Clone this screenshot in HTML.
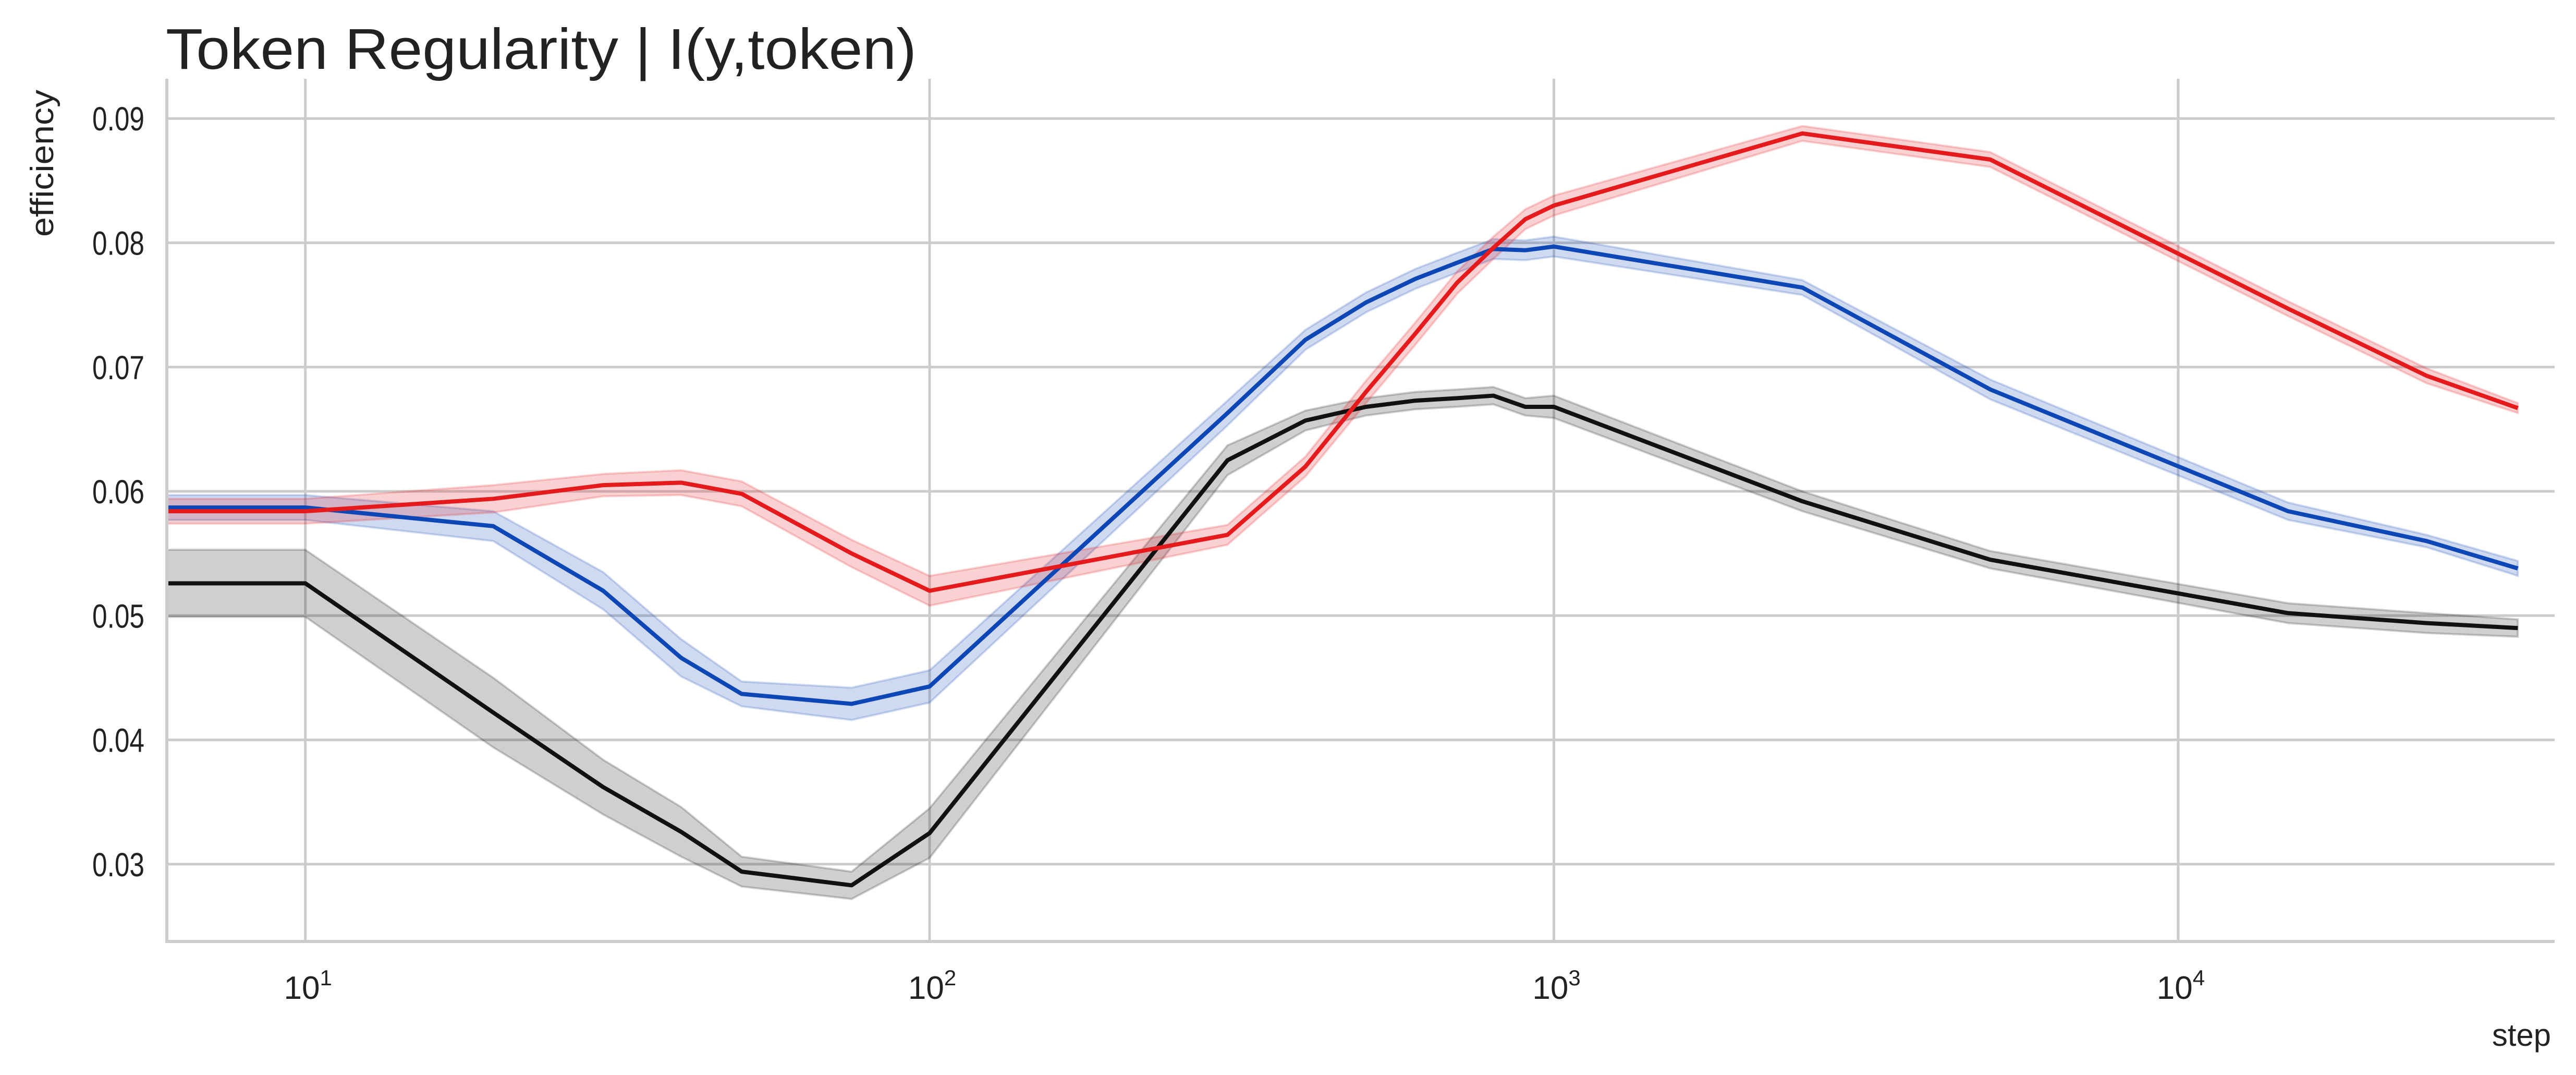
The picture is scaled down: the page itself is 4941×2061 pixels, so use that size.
<!DOCTYPE html>
<html><head><meta charset="utf-8"><style>
html,body{margin:0;padding:0;background:#fff;}
svg{display:block;font-family:"Liberation Sans",sans-serif;}
</style></head><body>
<svg id="chart" width="4941" height="2061" viewBox="0 0 4941 2061" xmlns="http://www.w3.org/2000/svg">
<text x="318" y="132" font-size="110" textLength="1440" lengthAdjust="spacingAndGlyphs" fill="#222">Token Regularity | I(y,token)</text>
<text transform="translate(102,172) rotate(-90)" text-anchor="end" font-size="62" textLength="282" lengthAdjust="spacingAndGlyphs" fill="#222">efficiency</text>
<text x="4893" y="2005" text-anchor="end" font-size="60" textLength="113" lengthAdjust="spacingAndGlyphs" fill="#222">step</text>
<g id="grid"></g><g id="bands"></g><g id="lines"></g><g id="axes"></g>
</svg>
<script>
const steps=[6,10,20,30,40,50,75,100,300,400,500,600,700,800,900,1000,2500,5000,15000,25000,35000];
const redVals=[0.0584,0.0584,0.0594,0.0605,0.0607,0.0598,0.0550,0.0520,0.0565,0.0620,0.0680,0.0727,0.0768,0.0796,0.0819,0.0830,0.0888,0.0867,0.0747,0.0693,0.0667];
const redCi=[0.0010,0.0010,0.0011,0.0009,0.0010,0.0010,0.0011,0.0012,0.0008,0.0008,0.0009,0.0009,0.0009,0.0009,0.0008,0.0008,0.0006,0.0006,0.0006,0.0006,0.0004];
const blueVals=[0.0587,0.0587,0.0572,0.0520,0.0466,0.0437,0.0429,0.0443,0.0663,0.0722,0.0752,0.0771,0.0784,0.0795,0.0794,0.0797,0.0764,0.0682,0.0584,0.0560,0.0538];
const blueCi=[0.0010,0.0010,0.0012,0.0015,0.0015,0.0010,0.0013,0.0013,0.0010,0.0008,0.0008,0.0008,0.0008,0.0008,0.0008,0.0008,0.0006,0.0008,0.0007,0.0005,0.0006];
const blackVals=[0.0526,0.0526,0.0422,0.0362,0.0326,0.0294,0.0283,0.0325,0.0625,0.0657,0.0668,0.0673,0.0675,0.0677,0.0668,0.0668,0.0592,0.0545,0.0502,0.0494,0.0490];
const blackCi=[0.0027,0.0027,0.0028,0.0022,0.0020,0.0012,0.0011,0.0020,0.0012,0.0008,0.0007,0.0007,0.0007,0.0007,0.0007,0.0009,0.0008,0.0007,0.0008,0.0008,0.0007];
const yTicks=[0.03,0.04,0.05,0.06,0.07,0.08,0.09];
const yTickLabels=["0.03","0.04","0.05","0.06","0.07","0.08","0.09"];
const xTickExps=[1,2,3,4];

const L=320,R=4900,T=151,B=1805;
const lx0=Math.log10(6),lx1=4.603;
function X(v){return L+(Math.log10(v)-lx0)/(lx1-lx0)*(R-L);}
const y0=0.02378,y1=0.0932;
function Y(v){return B-(v-y0)/(y1-y0)*(B-T);}
const NS="http://www.w3.org/2000/svg";
function mk(tag,attrs,parent){const e=document.createElementNS(NS,tag);for(const k in attrs)e.setAttribute(k,attrs[k]);parent.appendChild(e);return e;}
const grid=document.getElementById('grid'),bands=document.getElementById('bands'),lines=document.getElementById('lines'),axes=document.getElementById('axes');
yTicks.forEach((t,i)=>{
  const g=mk('line',{x1:L,x2:R,y1:Y(t),y2:Y(t),stroke:'#cccccc','stroke-width':5},grid);
  
  
  const tx=mk('text',{x:277,y:Y(t)+23,'text-anchor':'end','font-size':64,textLength:100,lengthAdjust:'spacingAndGlyphs',fill:'#222'},axes);
  tx.textContent=yTickLabels[i];
  
  
});
xTickExps.forEach(e=>{
  const x=X(Math.pow(10,e));
  const g=mk('line',{x1:x,x2:x,y1:T,y2:B,stroke:'#cccccc','stroke-width':5},grid);
  
  
  const tx=mk('text',{x:x+5,y:1915,'text-anchor':'middle','font-size':62,fill:'#222'},axes);
  tx.innerHTML='10<tspan dy="-26" font-size="42">'+e+'</tspan>';
  
  
});
const sl=mk('line',{x1:L,x2:L,y1:T,y2:B+3,stroke:'#cccccc','stroke-width':6},axes);


const sb=mk('line',{x1:L-3,x2:R,y1:B,y2:B,stroke:'#cccccc','stroke-width':6},axes);



function series(vals,ci,color,name){
  let up=steps.map((s,i)=>X(s)+','+Y(vals[i]+ci[i]));
  let lo=steps.map((s,i)=>X(s)+','+Y(vals[i]-ci[i])).reverse();
  const b=mk('polygon',{points:up.concat(lo).join(' '),fill:color,'fill-opacity':0.2,stroke:color,'stroke-opacity':0.2,'stroke-width':4},bands);
  
  
  const l=mk('polyline',{points:steps.map((s,i)=>X(s)+','+Y(vals[i])).join(' '),fill:'none',stroke:color,'stroke-width':8,'stroke-linejoin':'round'},lines);
  
  
}
series(blackVals,blackCi,'#111111','black-series');
series(blueVals,blueCi,'#0d47b6','blue-series');
series(redVals,redCi,'#e41a1c','red-series');
</script>
</body></html>
